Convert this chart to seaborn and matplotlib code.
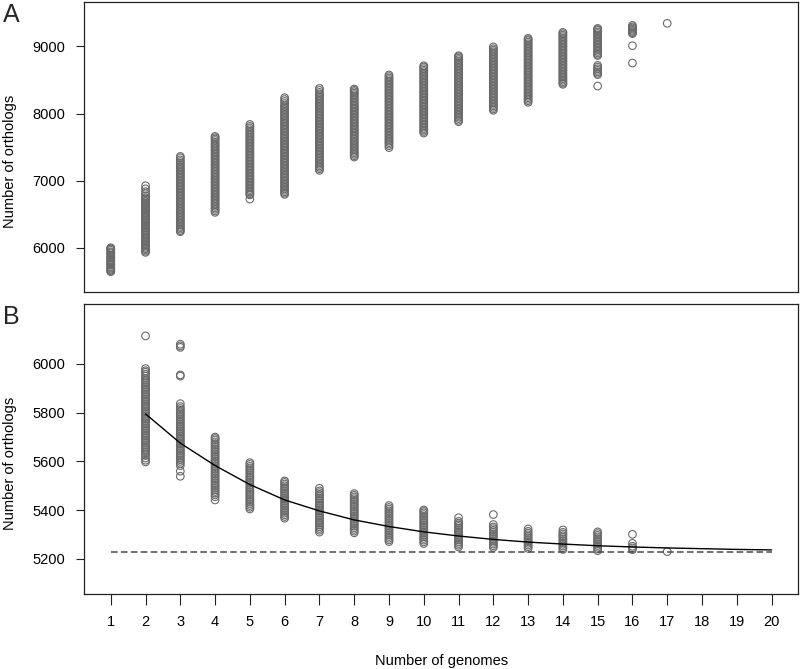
import pandas as pd
import matplotlib.pyplot as plt
import seaborn as sns

# Pan-genome (A): orthologs found for each number of genomes sampled
pan_1 = [5648, 5656, 5670, 5685, 5702, 5718, 5741, 5755, 5768, 5790, 5808, 5822, 5846, 5861, 5875, 5889,
         5915, 5930, 5943, 5968, 5985, 5994, 6003]
pan_2 = [5935, 5952, 5975, 5991, 6010, 6030, 6047, 6068, 6090, 6108, 6127, 6150, 6168, 6190, 6212, 6233,
         6251, 6270, 6292, 6310, 6331, 6350, 6372, 6390, 6411, 6433, 6450, 6472, 6490, 6512, 6531, 6552,
         6570, 6592, 6612, 6630, 6652, 6671, 6690, 6712, 6731, 6749, 6776, 6808, 6838, 6880, 6926]
pan_3 = [6243, 6258, 6280, 6302, 6322, 6345, 6370, 6391, 6413, 6436, 6458, 6480, 6502, 6525, 6547, 6569,
         6590, 6613, 6635, 6658, 6680, 6701, 6724, 6746, 6769, 6790, 6812, 6834, 6857, 6879, 6901, 6923,
         6945, 6968, 6990, 7012, 7035, 7057, 7080, 7101, 7124, 7146, 7168, 7190, 7213, 7236, 7260, 7286,
         7310, 7341, 7362]
pan_4 = [6530, 6551, 6575, 6598, 6620, 6643, 6666, 6689, 6711, 6734, 6757, 6779, 6802, 6825, 6847, 6870,
         6893, 6915, 6938, 6961, 6983, 7006, 7029, 7051, 7074, 7097, 7119, 7142, 7165, 7187, 7210, 7233,
         7255, 7278, 7301, 7323, 7346, 7369, 7391, 7414, 7437, 7459, 7482, 7505, 7527, 7550, 7573, 7598,
         7620, 7640, 7659]
pan_5 = [6728, 6790, 6805, 6826, 6848, 6870, 6893, 6915, 6937, 6959, 6981, 7004, 7026, 7048, 7070, 7092,
         7115, 7137, 7159, 7181, 7203, 7226, 7248, 7270, 7292, 7314, 7337, 7359, 7381, 7403, 7425, 7448,
         7470, 7492, 7514, 7536, 7559, 7581, 7603, 7625, 7647, 7670, 7692, 7714, 7736, 7760, 7785, 7810, 7838]
pan_6 = [6798, 6815, 6836, 6858, 6880, 6902, 6925, 6947, 6969, 6991, 7013, 7036, 7058, 7080, 7102, 7124,
         7147, 7169, 7191, 7213, 7235, 7258, 7280, 7302, 7324, 7346, 7369, 7391, 7413, 7435, 7457, 7480,
         7502, 7524, 7546, 7568, 7591, 7613, 7635, 7657, 7679, 7702, 7724, 7746, 7768, 7790, 7813, 7835,
         7857, 7879, 7901, 7924, 7946, 7968, 7990, 8012, 8035, 8057, 8079, 8101, 8123, 8150, 8180, 8208, 8235]
pan_7 = [7155, 7178, 7200, 7222, 7244, 7266, 7289, 7311, 7333, 7355, 7377, 7400, 7422, 7444, 7466, 7488,
         7511, 7533, 7555, 7577, 7599, 7622, 7644, 7666, 7688, 7710, 7733, 7755, 7777, 7799, 7821, 7844,
         7866, 7888, 7910, 7932, 7955, 7977, 7999, 8021, 8043, 8066, 8088, 8110, 8132, 8154, 8177, 8199,
         8221, 8243, 8265, 8290, 8315, 8345, 8374]
pan_8 = [7353, 7372, 7394, 7416, 7438, 7460, 7482, 7505, 7527, 7549, 7571, 7593, 7616, 7638, 7660, 7682,
         7704, 7727, 7749, 7771, 7793, 7815, 7838, 7860, 7882, 7904, 7926, 7949, 7971, 7993, 8015, 8037,
         8060, 8082, 8104, 8126, 8148, 8171, 8193, 8215, 8237, 8259, 8282, 8304, 8325, 8345, 8364]
pan_9 = [7493, 7521, 7545, 7567, 7590, 7612, 7634, 7657, 7679, 7701, 7724, 7746, 7768, 7791, 7813, 7835,
         7858, 7880, 7902, 7925, 7947, 7969, 7992, 8014, 8036, 8059, 8081, 8103, 8126, 8148, 8170, 8193,
         8215, 8237, 8260, 8282, 8304, 8327, 8349, 8371, 8394, 8416, 8438, 8461, 8483, 8505, 8528, 8550, 8573]
pan_10 = [7710, 7733, 7755, 7777, 7799, 7822, 7844, 7866, 7888, 7911, 7933, 7955, 7977, 8000, 8022, 8044,
          8066, 8089, 8111, 8133, 8155, 8178, 8200, 8222, 8244, 8267, 8289, 8311, 8333, 8356, 8378, 8400,
          8422, 8445, 8467, 8489, 8511, 8534, 8556, 8578, 8600, 8623, 8645, 8668, 8692, 8711]
pan_11 = [7879, 7900, 7925, 7948, 7970, 7993, 8015, 8038, 8060, 8083, 8105, 8128, 8150, 8173, 8195, 8218,
          8240, 8263, 8285, 8308, 8330, 8353, 8375, 8398, 8420, 8443, 8465, 8488, 8510, 8533, 8555, 8578,
          8600, 8623, 8645, 8668, 8690, 8713, 8735, 8758, 8780, 8803, 8825, 8845, 8860]
pan_12 = [8048, 8069, 8092, 8114, 8136, 8159, 8181, 8203, 8226, 8248, 8270, 8293, 8315, 8337, 8360, 8382,
          8404, 8427, 8449, 8471, 8494, 8516, 8538, 8561, 8583, 8605, 8628, 8650, 8672, 8695, 8717, 8739,
          8762, 8784, 8806, 8829, 8851, 8873, 8896, 8918, 8940, 8963, 8990]
pan_13 = [8167, 8190, 8212, 8234, 8257, 8279, 8301, 8324, 8346, 8368, 8391, 8413, 8435, 8458, 8480, 8502,
          8525, 8547, 8569, 8592, 8614, 8636, 8659, 8681, 8703, 8726, 8748, 8770, 8793, 8815, 8837, 8860,
          8882, 8904, 8927, 8949, 8971, 8994, 9016, 9038, 9061, 9083, 9100, 9118]
pan_14 = [8435, 8452, 8474, 8496, 8519, 8541, 8563, 8586, 8608, 8630, 8653, 8675, 8697, 8720, 8742, 8764,
          8787, 8809, 8831, 8854, 8876, 8898, 8921, 8943, 8965, 8988, 9010, 9032, 9055, 9077, 9099, 9122,
          9144, 9166, 9188, 9207]
pan_15 = [8409, 8579, 8598, 8620, 8642, 8665, 8690, 8716, 8863, 8880, 8902, 8924, 8946, 8969, 8991, 9013,
          9035, 9058, 9080, 9102, 9124, 9147, 9169, 9191, 9213, 9236, 9250, 9266]
pan_16 = [8751, 9009, 9189, 9203, 9220, 9238, 9256, 9273, 9290, 9311]
pan_17 = [9342]

# Core genome (B)
core_2 = [6115, 5598, 5605, 5614, 5624, 5632, 5640, 5647, 5654, 5661, 5668, 5675, 5682, 5689, 5696, 5703,
          5710, 5717, 5724, 5731, 5738, 5745, 5752, 5759, 5766, 5773, 5780, 5787, 5794, 5801, 5808, 5815,
          5822, 5829, 5836, 5843, 5850, 5857, 5864, 5871, 5878, 5885, 5892, 5899, 5906, 5913, 5920, 5927,
          5934, 5941, 5950, 5958, 5966, 5972, 5981]
core_3 = [6081, 6074, 6068, 5955, 5950, 5539, 5560, 5583, 5592, 5600, 5607, 5614, 5621, 5628, 5635, 5642,
          5649, 5656, 5663, 5670, 5677, 5684, 5691, 5698, 5705, 5712, 5719, 5726, 5733, 5740, 5747, 5754,
          5761, 5768, 5775, 5782, 5789, 5796, 5803, 5810, 5817, 5825, 5837]
core_4 = [5442, 5455, 5463, 5470, 5477, 5484, 5491, 5498, 5505, 5512, 5519, 5526, 5533, 5540, 5547, 5554,
          5561, 5568, 5575, 5582, 5589, 5596, 5603, 5610, 5617, 5624, 5631, 5638, 5645, 5652, 5659, 5666,
          5673, 5680, 5688, 5694, 5700]
core_5 = [5405, 5412, 5419, 5426, 5433, 5440, 5447, 5454, 5461, 5468, 5475, 5482, 5489, 5496, 5503, 5510,
          5517, 5524, 5531, 5538, 5545, 5552, 5559, 5566, 5573, 5580, 5588, 5595]
core_6 = [5367, 5374, 5381, 5388, 5395, 5402, 5409, 5416, 5423, 5430, 5437, 5444, 5451, 5458, 5465, 5472,
          5479, 5486, 5493, 5500, 5507, 5514, 5520]
core_7 = [5310, 5318, 5325, 5332, 5339, 5346, 5353, 5360, 5367, 5374, 5381, 5388, 5395, 5402, 5409, 5416,
          5423, 5430, 5437, 5444, 5451, 5458, 5465, 5472, 5479, 5490]
core_8 = [5307, 5314, 5321, 5328, 5335, 5342, 5349, 5356, 5363, 5370, 5377, 5384, 5391, 5398, 5405, 5412,
          5419, 5426, 5433, 5440, 5447, 5454, 5461, 5468]
core_9 = [5271, 5278, 5285, 5292, 5299, 5306, 5313, 5320, 5327, 5334, 5341, 5348, 5355, 5362, 5369, 5376,
          5383, 5390, 5397, 5404, 5411, 5419]
core_10 = [5263, 5270, 5277, 5284, 5291, 5298, 5305, 5312, 5319, 5326, 5333, 5340, 5347, 5354, 5361, 5368,
           5375, 5382, 5389, 5395, 5401]
core_11 = [5249, 5256, 5263, 5270, 5277, 5284, 5291, 5298, 5305, 5312, 5319, 5326, 5333, 5340, 5347, 5354, 5369]
core_12 = [5382, 5247, 5254, 5261, 5268, 5275, 5282, 5289, 5296, 5303, 5310, 5317, 5324, 5331, 5341]
core_13 = [5243, 5250, 5257, 5264, 5271, 5278, 5285, 5292, 5299, 5306, 5313, 5323]
core_14 = [5239, 5246, 5253, 5260, 5267, 5274, 5281, 5288, 5295, 5302, 5309, 5319]
core_15 = [5234, 5241, 5248, 5255, 5262, 5269, 5276, 5283, 5290, 5297, 5304, 5311]
core_16 = [5238, 5245, 5252, 5264, 5301]
core_17 = [5230]

# fitted core curve (read at each genome count) and the dashed asymptote
curve_x = list(range(2, 21))
curve_y = [5795, 5675, 5583, 5505, 5442, 5397, 5360, 5333, 5311, 5294, 5280, 5269, 5261, 5254, 5249,
           5245, 5242, 5239, 5237]
asym_x = [1, 20]
asym_y = [5230, 5230]

pan_cols = [pan_1, pan_2, pan_3, pan_4, pan_5, pan_6, pan_7, pan_8, pan_9, pan_10,
            pan_11, pan_12, pan_13, pan_14, pan_15, pan_16, pan_17]
core_cols = [core_2, core_3, core_4, core_5, core_6, core_7, core_8, core_9, core_10,
             core_11, core_12, core_13, core_14, core_15, core_16, core_17]

pan_df = pd.DataFrame([(i + 1, v) for i, col in enumerate(pan_cols) for v in col],
                      columns=["genomes", "orthologs"])
core_df = pd.DataFrame([(i + 2, v) for i, col in enumerate(core_cols) for v in col],
                       columns=["genomes", "orthologs"])

sns.set_theme(style="white")
plt.rcParams['font.family'] = ['Liberation Sans', 'DejaVu Sans']

point_color = "#6a6a6a"
fig = plt.figure(figsize=(8, 6.69), dpi=100)
axA = fig.add_axes([0.1054, 0.5635, 0.8921, 0.4335])
axB = fig.add_axes([0.1054, 0.1121, 0.8921, 0.4335])

#Panel A
sns.scatterplot(data=pan_df, x="genomes", y="orthologs", ax=axA, marker="o", s=30,
                facecolor="none", edgecolor=point_color, linewidth=0.8)
axA.set_xlim(0.24, 20.76)
axA.set_ylim(5345, 9659)
axA.set_xticks([])
axA.set_yticks([6000, 7000, 8000, 9000])

#Panel B
sns.scatterplot(data=core_df, x="genomes", y="orthologs", ax=axB, marker="o", s=30,
                facecolor="none", edgecolor=point_color, linewidth=0.8)
sns.lineplot(x=curve_x, y=curve_y, ax=axB, color="black", linewidth=1.0)
sns.lineplot(x=asym_x, y=asym_y, ax=axB, color="#4a4a4a", linewidth=1.1, linestyle=(0, (4.3, 2.2)))
axB.set_xlim(0.24, 20.76)
axB.set_ylim(5056, 6246)
axB.set_xticks(range(1, 21))
axB.set_yticks([5200, 5400, 5600, 5800, 6000])

for ax in (axA, axB):
    for sp in ax.spines.values():
        sp.set_visible(True)
        sp.set_color("#222222")
        sp.set_linewidth(0.9)
    ax.tick_params(axis="y", left=True, direction="out", length=6, width=0.8, color="#222222",
                   pad=8, labelsize=10.5, labelcolor="black")
    ax.tick_params(axis="x", bottom=True, direction="out", length=8, width=0.8, color="#222222",
                   pad=7, labelsize=10.5, labelcolor="black")
    ax.set_ylabel("Number of orthologs", fontsize=10.5, va="center", color="black")
    ax.yaxis.set_label_coords(-0.1048, 0.452)
    ax.set_xlabel("")

axB.set_xlabel("Number of genomes", fontsize=10.5, va="center", color="black")
axB.xaxis.set_label_coords(0.5, -0.231)

fig.text(3 / 800, 1 - 22 / 669, "A", fontsize=18, ha="left", va="baseline")
fig.text(3 / 800, 1 - 324 / 669, "B", fontsize=18, ha="left", va="baseline")

plt.savefig("out.png", dpi=100)
plt.close()
